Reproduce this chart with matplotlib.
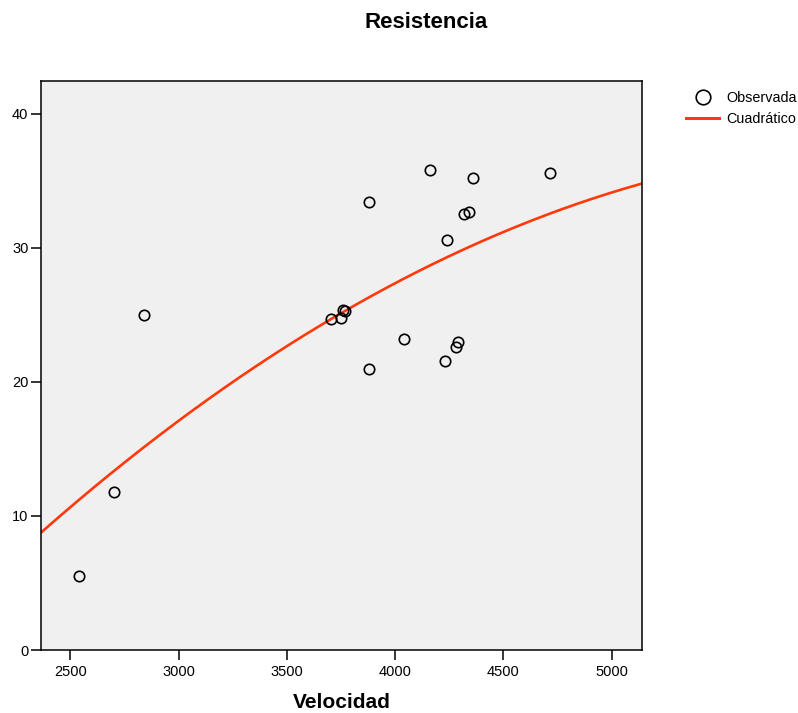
import numpy as np
import matplotlib
matplotlib.use("Agg")
import matplotlib.pyplot as plt
from matplotlib.lines import Line2D

plt.rcParams['font.family'] = ['Liberation Sans', 'DejaVu Sans']

velocidad = [2540, 2702, 2840, 3702, 3751, 3760, 3768, 3880, 4160, 4360,
             4713, 4320, 4341, 4240, 4041, 4292, 4280, 4230, 3880]
resistencia = [5.5, 11.8, 25.0, 24.7, 24.8, 25.4, 25.3, 33.4, 35.8, 35.2,
               35.6, 32.5, 32.7, 30.6, 23.2, 23.0, 22.6, 21.6, 21.0]
x_ticks = [2500, 3000, 3500, 4000, 4500, 5000]
y_ticks = [0, 10, 20, 30, 40]
x_limits = (2365, 5140)
y_limits = (0, 42.46)

W, H = 798, 713
fig = plt.figure(figsize=(W / 100, H / 100), dpi=100)
ax = fig.add_axes([41 / W, 1 - 650 / H, (642 - 41) / W, (650 - 81) / H])
ax.set_facecolor('#f0f0f0')

coef = np.polyfit(velocidad, resistencia, 2)
xs = np.linspace(x_limits[0], x_limits[1], 300)
ax.plot(xs, np.polyval(coef, xs), color='#ff3a0a', lw=1.9, zorder=2)
ax.plot(velocidad, resistencia, 'o', mfc='none', mec='black', mew=1.2, ms=7.5, zorder=3)

ax.set_xlim(*x_limits)
ax.set_ylim(*y_limits)
ax.set_xticks(x_ticks)
ax.set_yticks(y_ticks)
ax.tick_params(labelsize=10.5, length=7, width=1.1, direction='out')
ax.tick_params(axis='x', pad=4)
ax.tick_params(axis='y', pad=2)
for s in ax.spines.values():
    s.set_linewidth(1.1)

ax.set_xlabel('Velocidad', fontsize=15, fontweight='bold', labelpad=10)
fig.text(426 / W, 1 - 22 / H, 'Resistencia', fontsize=16, fontweight='bold',
         ha='center', va='center')

handles = [Line2D([], [], marker='o', ls='none', mfc='none', mec='black', mew=1.2, ms=10.5),
           Line2D([], [], color='#ff3a0a', lw=2.2)]
fig.legend(handles, ['Observada', 'Cuadrático'], loc='upper left',
           bbox_to_anchor=(686 / W, 1 - 91 / H), frameon=False, fontsize=10.4,
           handlelength=2.3, handletextpad=0.5, labelspacing=0.5, borderpad=0, borderaxespad=0)

fig.savefig('out.png', dpi=100)
